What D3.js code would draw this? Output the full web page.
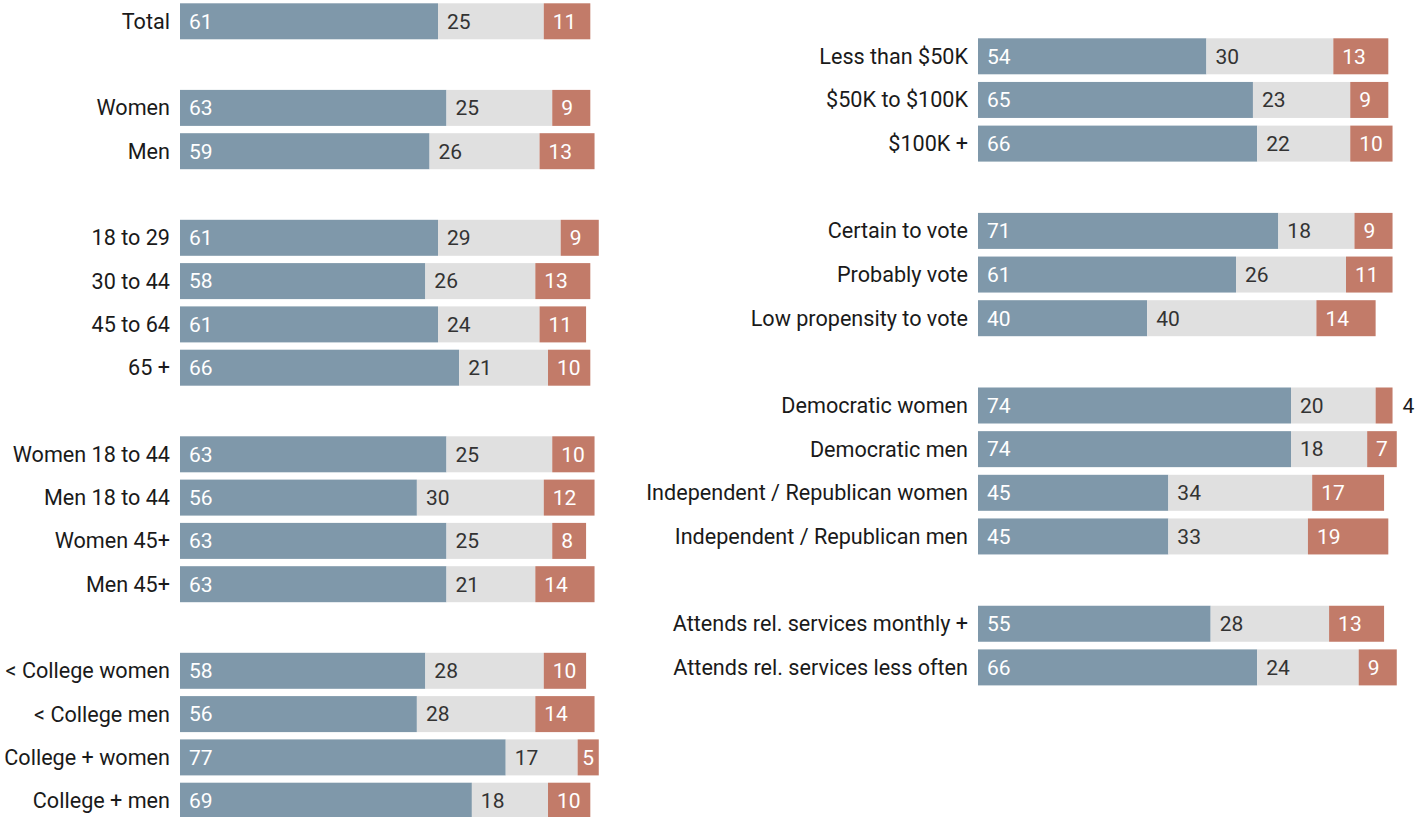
<!DOCTYPE html>
<html>
<head>
<meta charset="utf-8">
<script src="https://cdn.jsdelivr.net/npm/d3@7"></script>
<style>
  html, body { margin: 0; padding: 0; background: #ffffff; }
  svg { display: block; font-family: Roboto, "Noto Sans", sans-serif; }
</style>
</head>
<body>
<svg id="chart" width="1417" height="817"></svg>
<script>
// Row groups for each column; a blank row separates consecutive groups.
const leftGroups = [
  ["Total"],
  ["Women", "Men"],
  ["18 to 29", "30 to 44", "45 to 64", "65 +"],
  ["Women 18 to 44", "Men 18 to 44", "Women 45+", "Men 45+"],
  ["< College women", "< College men", "College + women", "College + men"]
];
const leftFirst  = [61, 63, 59, 61, 58, 61, 66, 63, 56, 63, 63, 58, 56, 77, 69];
const leftMiddle = [25, 25, 26, 29, 26, 24, 21, 25, 30, 25, 21, 28, 28, 17, 18];
const leftLast   = [11,  9, 13,  9, 13, 11, 10, 10, 12,  8, 14, 10, 14,  5, 10];

const rightGroups = [
  ["Less than $50K", "$50K to $100K", "$100K +"],
  ["Certain to vote", "Probably vote", "Low propensity to vote"],
  ["Democratic women", "Democratic men", "Independent / Republican women", "Independent / Republican men"],
  ["Attends rel. services monthly +", "Attends rel. services less often"]
];
const rightFirst  = [54, 65, 66, 71, 61, 40, 74, 74, 45, 45, 55, 66];
const rightMiddle = [30, 23, 22, 18, 26, 40, 20, 18, 34, 33, 28, 24];
const rightLast   = [13,  9, 10,  9, 11, 14,  4,  7, 17, 19, 13,  9];

const colors = ["#7f98aa", "#e0e0e0", "#c27b69"];
const textColors = ["#ffffff", "#333333", "#ffffff"];

const svg = d3.select("#chart");
const x = d3.scaleLinear().domain([0, 100]).range([0, 423]);

function buildRows(groups, a, b, c) {
  const rows = [];
  let slot = 0, k = 0;
  groups.forEach((g, gi) => {
    if (gi > 0) slot += 1;
    g.forEach(label => {
      rows.push({ label, slot, values: [a[k], b[k], c[k]] });
      k += 1; slot += 1;
    });
  });
  return rows;
}

function drawPanel(rows, opts) {
  const y = d3.scaleLinear().domain([0, 1]).range([opts.top, opts.top + opts.step]);
  const bandH = 36;
  const g = svg.append("g").attr("transform", `translate(${opts.x0},0)`);

  const row = g.selectAll("g.row").data(rows).join("g")
    .attr("class", "row")
    .attr("transform", d => `translate(0,${y(d.slot)})`);

  row.append("text")
    .attr("x", -10)
    .attr("y", bandH / 2)
    .attr("dy", "0.35em")
    .attr("text-anchor", "end")
    .attr("font-size", 21.6)
    .attr("fill", "#1a1a1a")
    .text(d => d.label);

  row.each(function(d) {
    const r = d3.select(this);
    let acc = 0;
    d.values.forEach((v, i) => {
      const x0 = x(acc), w = x(acc + v) - x(acc);
      r.append("rect")
        .attr("x", x0)
        .attr("y", 0)
        .attr("width", w)
        .attr("height", bandH)
        .attr("fill", colors[i]);
      // Very thin segments get their label outside; narrow ones centre it.
      const outside = w < 18;
      const narrow = !outside && w < 30;
      r.append("text")
        .attr("x", outside ? x0 + w + 10 : narrow ? x0 + w / 2 : x0 + 9)
        .attr("y", bandH / 2)
        .attr("dy", "0.35em")
        .attr("text-anchor", narrow ? "middle" : "start")
        .attr("font-size", 21)
        .attr("fill", outside ? "#1a1a1a" : textColors[i])
        .text(v);
      acc += v;
    });
  });
}

drawPanel(buildRows(leftGroups, leftFirst, leftMiddle, leftLast), { x0: 180, top: 3.3, step: 43.3 });
drawPanel(buildRows(rightGroups, rightFirst, rightMiddle, rightLast), { x0: 978, top: 38.3, step: 43.65 });
</script>
</body>
</html>
